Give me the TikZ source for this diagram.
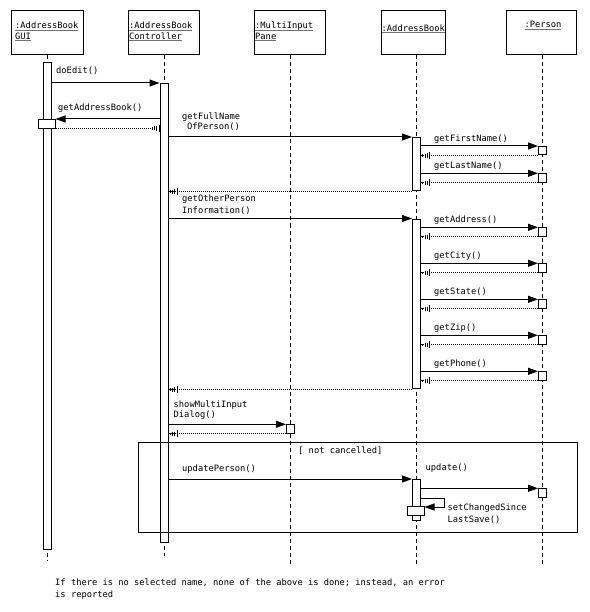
\documentclass[tikz,border=0pt]{standalone}
\usepackage{fontspec}
\setmainfont{DejaVu Sans Mono}
\usetikzlibrary{arrows.meta}

\pgfdeclarearrow{
  name = Hatch,
  setup code = {
    \pgfarrowssettipend{0pt}
    \pgfarrowssetlineend{0pt}
    \pgfarrowssetbackend{-9pt}
    \pgfarrowshullpoint{0pt}{0pt}
    \pgfarrowsupperhullpoint{-9pt}{3.5pt}
  },
  drawing code = {
    \pgfsetdash{}{0pt}
    \pgfsetbuttcap
    \pgfsetlinewidth{1pt}
    \pgfpathmoveto{\pgfpoint{-1.5pt}{-1pt}}\pgfpathlineto{\pgfpoint{-1.5pt}{1.5pt}}
    \pgfpathmoveto{\pgfpoint{-4pt}{-1.5pt}}\pgfpathlineto{\pgfpoint{-4pt}{2.5pt}}
    \pgfpathmoveto{\pgfpoint{-6pt}{-2pt}}\pgfpathlineto{\pgfpoint{-6pt}{2.5pt}}
    \pgfpathmoveto{\pgfpoint{-8.5pt}{-3.5pt}}\pgfpathlineto{\pgfpoint{-8.5pt}{3.5pt}}
    \pgfusepathqstroke
  }
}

\newcommand{\ulx}[1]{\setbox0=\hbox{#1}\rlap{\raisebox{-1.6pt}{\color{black!55}\rule{\wd0}{0.8pt}}}\box0}

\tikzset{
  hdr/.style={draw, line width=1pt, minimum width=72pt, minimum height=44pt, inner sep=0pt},
  bar/.style={draw, fill=white, line width=1pt, minimum width=8pt, inner sep=0pt, anchor=north},
  pbox/.style={draw, fill=white, line width=1pt, minimum width=8pt, minimum height=8.5pt, inner sep=0pt, anchor=north},
  life/.style={line width=1pt, dash pattern=on 4pt off 3pt},
  msg/.style={line width=1pt, -{Triangle[length=10pt,width=7pt]}},
  ret/.style={line width=1pt, dash pattern=on 1pt off 1pt, -{Hatch}},
  retrev/.style={line width=1pt, dash pattern=on 1pt off 1pt, -{Hatch[reversed]}},
  lbl/.style={anchor=base west, inner sep=0pt, font=\fontsize{8.75}{11}\selectfont},
  lblc/.style={anchor=base, inner sep=0pt, font=\fontsize{8.75}{11}\selectfont}
}

\begin{document}
\begin{tikzpicture}[x=1pt,y=-1pt]
\useasboundingbox[fill=white] (0,0) rectangle (589,612);

% header boxes
\node[hdr] (h1) at (47,33) {};
\node[hdr, minimum width=71pt] (h2) at (163.8,33) {};
\node[hdr, minimum width=71.7pt] (h3) at (290,33) {};
\node[hdr, minimum width=64pt] (h4) at (413,33) {};
\node[hdr, minimum width=70pt] (h5) at (541.7,33) {};

\node[lbl] (t1a) at (15,29) {\ulx{:AddressBook}};
\node[lbl] (t1b) at (15,39.5) {\ulx{GUI}};
\node[lbl] (t2a) at (129,29) {\ulx{:AddressBook}};
\node[lbl] (t2b) at (129,39.5) {\ulx{Controller}};
\node[lbl] (t3a) at (255,29) {\ulx{:MultiInput}};
\node[lbl] (t3b) at (255,39.5) {\ulx{Pane}};
\node[lbl] (t4a) at (381.5,31.5) {\ulx{:AddressBook}};
\node[lblc] (t5a) at (543,28) {\ulx{:Person}};

% lifelines
\coordinate (e1) at (47,561);
\coordinate (e2) at (164,556);
\coordinate (e3) at (290,565);
\coordinate (e4) at (416.5,565);
\coordinate (e5) at (542.5,565);
\draw[life] (h1.south) -- (e1);
\draw[life] (h2.south -| e2) -- (e2);
\draw[life] (h3.south) -- (e3);
\draw[life] (h4.south -| e4) -- (e4);
\draw[life] (h5.south -| e5) -- (e5);

% activation bars
\node[bar, minimum height=487pt] (gb) at (47,62) {};
\node[bar, minimum height=459pt] (cb) at (164,83) {};
\node[bar, minimum height=9pt, minimum width=17pt] (gn) at (46.5,119) {};
\node[bar, minimum height=53.5pt] (ab1) at (416.5,137) {};
\node[bar, minimum height=169.5pt] (ab2) at (416.5,218.5) {};
\node[bar, minimum height=41pt] (ab3) at (416.5,479) {};
\node[bar, minimum height=9pt, minimum width=17pt] (abn) at (415.5,506) {};

% small boxes
\node[pbox] (p1) at (542.5,146) {};
\node[pbox] (p2) at (542.5,173.3) {};
\node[pbox] (p3) at (542.5,227.3) {};
\node[pbox] (p4) at (542.5,263.3) {};
\node[pbox] (p5) at (542.5,299.3) {};
\node[pbox] (p6) at (542.5,335.3) {};
\node[pbox] (p7) at (542.5,371.3) {};
\node[pbox] (p8) at (542.5,488.3) {};
\node[pbox] (mb) at (290.5,424.3) {};

% messages
\draw[msg] (gb.east |- cb.north) -- (cb.north west);
\node[lbl] at (56,73.5) {doEdit()};

\draw[msg] (cb.west |- gn.north) -- (gn.north east);
\node[lbl] at (58,110.5) {getAddressBook()};
\draw[retrev] (gn.south east) -- (gn.south east -| cb.west);

\draw[msg] (cb.east |- ab1.north) -- (ab1.north west);
\node[lbl] at (182,119.5) {getFullName};
\node[lbl] at (187,130) {OfPerson()};

\draw[msg] (ab1.east |- p1.north) -- (p1.north west);
\draw[ret] (p1.south west) -- (p1.south west -| ab1.east);
\node[lbl] at (434,142) {getFirstName()};

\draw[msg] (ab1.east |- p2.north) -- (p2.north west);
\draw[ret] (p2.south west) -- (p2.south west -| ab1.east);
\node[lbl] at (434,169) {getLastName()};

\draw[ret] (ab1.south west) -- (ab1.south west -| cb.east);

\draw[msg] (cb.east |- ab2.north) -- (ab2.north west);
\node[lbl] at (182,202) {getOtherPerson};
\node[lbl] at (182,213) {Information()};

\draw[msg] (ab2.east |- p3.north) -- (p3.north west);
\draw[ret] (p3.south west) -- (p3.south west -| ab2.east);
\node[lbl] at (434,222.5) {getAddress()};

\draw[msg] (ab2.east |- p4.north) -- (p4.north west);
\draw[ret] (p4.south west) -- (p4.south west -| ab2.east);
\node[lbl] at (434,258.5) {getCity()};

\draw[msg] (ab2.east |- p5.north) -- (p5.north west);
\draw[ret] (p5.south west) -- (p5.south west -| ab2.east);
\node[lbl] at (434,294.5) {getState()};

\draw[msg] (ab2.east |- p6.north) -- (p6.north west);
\draw[ret] (p6.south west) -- (p6.south west -| ab2.east);
\node[lbl] at (434,330.5) {getZip()};

\draw[msg] (ab2.east |- p7.north) -- (p7.north west);
\draw[ret] (p7.south west) -- (p7.south west -| ab2.east);
\node[lbl] at (434,366.5) {getPhone()};

\draw[ret] (ab2.south west) -- (ab2.south west -| cb.east);

\draw[msg] (cb.east |- mb.north) -- (mb.north west);
\draw[ret] (mb.south west) -- (mb.south west -| cb.east);
\node[lbl] at (173.5,407) {showMultiInput};
\node[lbl] at (173.5,417.5) {Dialog()};

% guard frame
\node[draw, line width=1pt, minimum width=439pt, minimum height=90pt, inner sep=0pt, anchor=north west] (fr) at (138,442) {};
\node[lbl] at (298,453) {[ not cancelled]};

\draw[msg] (cb.east |- ab3.north) -- (ab3.north west);
\node[lbl] at (182,471.5) {updatePerson()};

\draw[msg] (ab3.east |- p8.north) -- (p8.north west);
\node[lbl] at (425.5,470.5) {update()};

\draw[msg] ([yshift=-19pt]ab3.north east) -- ++(23,0) |- ([yshift=-1pt]abn.north east);
\node[lbl] at (447.5,510.5) {setChangedSince};
\node[lbl] at (447.5,522) {LastSave()};

% note
\node[lbl] at (55,585) {If there is no selected name, none of the above is done; instead, an error};
\node[lbl] at (55,597) {is reported};
\end{tikzpicture}
\end{document}
